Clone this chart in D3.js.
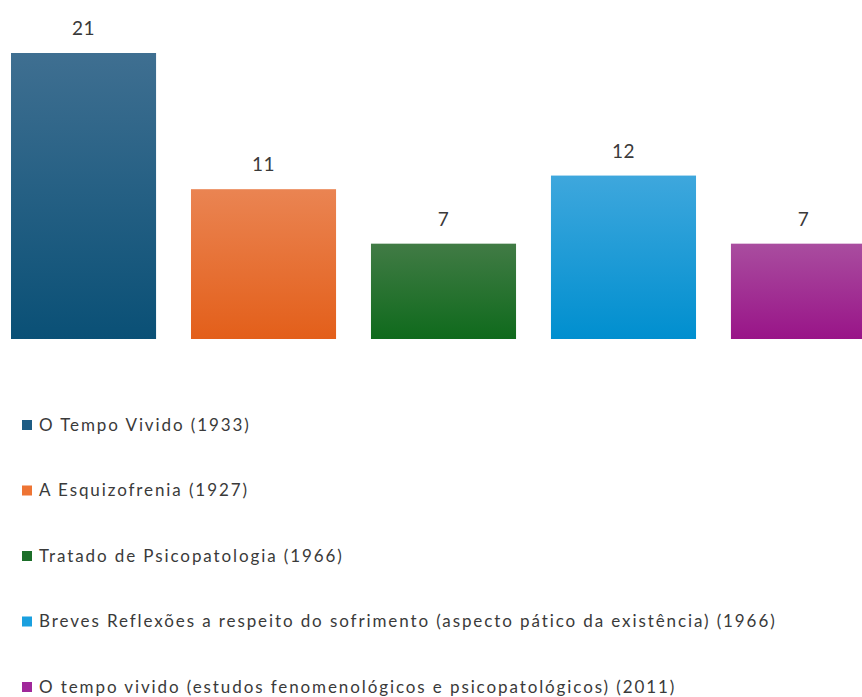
<!DOCTYPE html>
<html>
<head>
<meta charset="utf-8">
<script src="https://cdn.jsdelivr.net/npm/d3@7"></script>
<style>
  html, body { margin: 0; padding: 0; background: #fff; overflow: hidden; }
  svg { display: block; }
</style>
</head>
<body>
<div id="chart"></div>
<script>
// data
const categories = [
  'O Tempo Vivido (1933)',
  'A Esquizofrenia (1927)',
  'Tratado de Psicopatologia (1966)',
  'Breves Reflexões a respeito do sofrimento (aspecto pático da existência) (1966)',
  'O tempo vivido (estudos fenomenológicos e psicopatológicos) (2011)'
];
const values = [21, 11, 7, 12, 7];
const colorsTop = ['#3f6f91', '#ea8452', '#417b45', '#3ea7dd', '#a94d9f'];
const colorsBottom = ['#0a5076', '#e35f1a', '#0f6a1c', '#008fcf', '#991488'];
const legendColors = ['#1d5c84', '#ee7434', '#1c6e29', '#1aa0df', '#a0289a'];

const width = 862, height = 697;
const margin = { top: 53, left: 11, baseline: 339 };

const svg = d3.select('#chart')
  .append('svg')
  .attr('width', width)
  .attr('height', height);

// gradients for the bars
const defs = svg.append('defs');
const grad = defs.selectAll('linearGradient')
  .data(categories)
  .enter()
  .append('linearGradient')
  .attr('id', function (d, i) { return 'barGrad_' + i; })
  .attr('x1', 0).attr('y1', 0).attr('x2', 0).attr('y2', 1);
grad.append('stop').attr('offset', '0%').attr('stop-color', function (d, i) { return colorsTop[i]; });
grad.append('stop').attr('offset', '100%').attr('stop-color', function (d, i) { return colorsBottom[i]; });

// scales
const step = 180;
const x = d3.scaleBand()
  .domain(categories)
  .range([margin.left - step * 0.0972, margin.left - step * 0.0972 + step * categories.length])
  .paddingInner(0.194)
  .paddingOuter(0.0972);

const y = d3.scaleLinear()
  .domain([0, 21])
  .range([margin.baseline, margin.top]);

// bars
svg.append('g')
  .selectAll('rect')
  .data(values)
  .join('rect')
  .attr('x', function (d, i) { return x(categories[i]); })
  .attr('y', function (d) { return y(d); })
  .attr('width', x.bandwidth())
  .attr('height', function (d) { return y(0) - y(d); })
  .attr('fill', function (d, i) { return 'url(#barGrad_' + i + ')'; });

// value labels
svg.append('g')
  .selectAll('text')
  .data(values)
  .join('text')
  .attr('x', function (d, i) { return x(categories[i]) + x.bandwidth() / 2; })
  .attr('y', function (d) { return y(d) - 18; })
  .attr('text-anchor', 'middle')
  .style('font-family', 'Lato, "Noto Sans", sans-serif')
  .style('font-size', '19px')
  .style('letter-spacing', '0.5px')
  .style('fill', '#3a3a3a')
  .text(function (d) { return d; });

// legend
const legendY = d3.scalePoint()
  .domain(categories)
  .range([425, 687]);

const legend = svg.append('g')
  .selectAll('g')
  .data(categories)
  .join('g')
  .attr('transform', function (d) { return 'translate(22,' + legendY(d) + ')'; });

legend.append('rect')
  .attr('x', 0)
  .attr('y', -5)
  .attr('width', 10)
  .attr('height', 10)
  .attr('fill', function (d, i) { return legendColors[i]; });

legend.append('text')
  .attr('x', 17)
  .attr('dy', '0.35em')
  .style('font-family', 'Lato, "Noto Sans", sans-serif')
  .style('font-size', '17px')
  .style('letter-spacing', '1.9px')
  .style('fill', '#3a3a3a')
  .text(function (d) { return d; });
</script>
</body>
</html>
